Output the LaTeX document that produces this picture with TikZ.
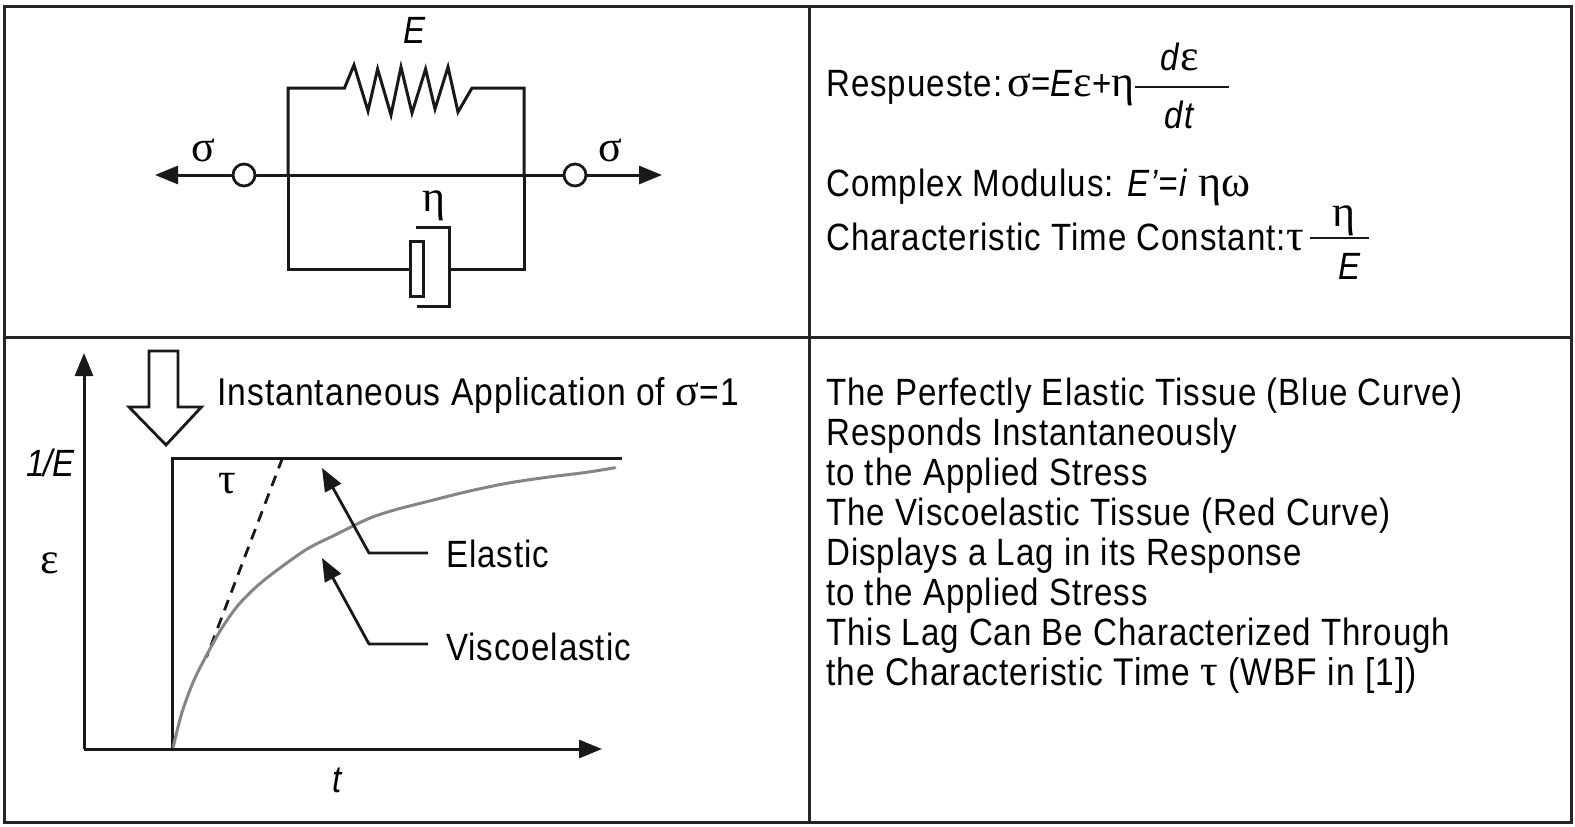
\documentclass[tikz,border=0pt]{standalone}
\usepackage{fontspec}
\usetikzlibrary{arrows.meta}
\setmainfont[FakeStretch=0.87,LetterSpace=2.6]{Liberation Sans}
\newfontfamily\grk{Liberation Serif}
\newcommand{\gk}[1]{{\grk\fontsize{44}{40}\selectfont #1}}
\tikzset{
  wire/.style={line width=3pt,draw=black!90,line join=miter},
  frameln/.style={line width=3pt,draw=black!85},
  thinw/.style={line width=2.8pt,draw=black!90},
  tip/.style={-{Triangle[length=23pt,width=18pt]}},
  txt/.style={inner sep=0pt,anchor=base west,font=\fontsize{38}{40}\selectfont},
  lbl/.style={inner sep=0pt,anchor=base,font=\fontsize{38}{40}\selectfont},
  term/.style={circle,draw=black!90,line width=2.8pt,fill=white,minimum size=22pt,inner sep=0pt},
}
\begin{document}
\begin{tikzpicture}[x=1pt,y=-1pt]
\useasboundingbox (0,0) rectangle (1575,827);
\fill[white] (0,0) rectangle (1575,827);
% frame
\draw[frameln] (4,6) rectangle (1571,822);
\draw[frameln] (809,6) -- (809,822);
\draw[frameln] (4,337) -- (1571,337);
% circuit
\coordinate (lj) at (288,175);
\coordinate (rj) at (524,175);
\coordinate (ltip) at (155,175);
\coordinate (rtip) at (662,175);
\node[term] (lt) at (244,175) {};
\node[term] (rt) at (575,175) {};
\draw[wire,tip] (lt.west) -- (ltip);
\draw[wire,tip] (rt.east) -- (rtip);
\draw[wire] (lt.east) -- (rt.west);
\draw[wire] (lj) -- (288,88) -- (344.5,88) -- (354,65) -- (368,111) -- (377.6,69) -- (391,115) -- (401,67) -- (412,113) -- (425.6,69) -- (435,109) -- (448,67) -- (458,112) -- (472,88) -- (524,88) -- (rj);
\node[draw=black!90,line width=2.6pt,fill=white,minimum width=13pt,minimum height=55pt,inner sep=0pt] (pis) at (417,269) {};
\draw[wire] (lj) -- (288,269) -- (pis.west);
\coordinate (cylt) at (449,227);
\coordinate (cylb) at (449,306);
\draw[wire] (416,227) -- (cylt) -- (cylb) -- (417,306);
\draw[wire] (449,269) -- (524,269) -- (rj);
\node[lbl,font=\fontsize{38}{40}\selectfont\itshape] (lE) at (415,43) {E};
\node[lbl] (ls1) at (203,161) {\gk{σ}};
\node[lbl] (ls2) at (610,161) {\gk{σ}};
\node[lbl] (leta) at (434,211) {\gk{η}};
% graph
\coordinate (org) at (84,749);
\coordinate (ytip) at (84,353);
\coordinate (xtip) at (602,749);
\draw[wire,tip] (org) -- (ytip);
\draw[wire,tip] (org) -- (xtip);
\draw[line width=2.8pt,draw=black!90,fill=white,line join=miter] (149,351) -- (178,351) -- (178,407) -- (201.5,407) -- (166,445) -- (129,407) -- (149,407) -- cycle;
\coordinate (s0) at (172,749);
\coordinate (s1) at (172,458);
\coordinate (s2) at (622,458);
\draw[wire] (s0) -- (s1) -- (s2);
\draw[line width=2.8pt,draw=black!90,dash pattern=on 11pt off 8pt] (282.5,458) -- (206.6,657);
\draw[line width=3pt,draw=black!48,line cap=round] plot[smooth,tension=0.5] coordinates {(173.3,746.7) (181.7,713.3) (193.3,681.7) (206.7,655) (221.7,628.3) (238.3,605) (258.3,585) (281.7,566.7) (308.3,548.3) (335,535) (355,525) (373.3,516.7) (398,509) (426.7,501.7) (466.7,491.7) (506.7,483.3) (546.7,477.3) (586.7,472.3) (615,467.7)};
\coordinate (e0) at (428,553);
\coordinate (e1) at (369,553);
\coordinate (e2) at (322,468);
\draw[thinw,tip] (e0) -- (e1) -- (e2);
\coordinate (v0) at (428,644);
\coordinate (v1) at (369,644);
\coordinate (v2) at (322,558);
\draw[thinw,tip] (v0) -- (v1) -- (v2);
\node[txt,font=\fontsize{38.7}{40}\selectfont] (inst) at (217,405) {Instantaneous Application of \gk{σ}=1};
\node[txt,font=\fontsize{38}{40}\selectfont\itshape\addfontfeature{LetterSpace=-2}] (oneE) at (26,476) {1/E};
\node[lbl] (leps) at (50,573) {\gk{ε}};
\node[lbl] (ltau) at (227,493) {\gk{τ}};
\node[lbl,font=\fontsize{38}{40}\selectfont\itshape] (lt2) at (337,792) {t};
\node[txt] (el) at (446,567) {Elastic};
\node[txt] (vi) at (446,660) {Viscoelastic};
% right top
\node[txt] (resp) at (826,96) {Respueste:\hspace{5pt}\gk{σ}=\textit{E}\gk{ε}+\gk{η}};
\coordinate (f1a) at (1135,87);
\coordinate (f1b) at (1229,87);
\draw[thinw] (f1a) -- (f1b);
\node[lbl] (num1) at (1180,70) {\textit{d}\gk{ε}};
\node[lbl] (den1) at (1180,128) {\textit{dt}};
\node[txt] (cm) at (826,196) {Complex Modulus: \textit{E’=i} \gk{ηω}};
\node[txt] (ch) at (826,250) {Characteristic Time Constant:\gk{τ}};
\coordinate (f2a) at (1310,238);
\coordinate (f2b) at (1369,238);
\draw[thinw] (f2a) -- (f2b);
\node[lbl] (num2) at (1344,226) {\gk{η}};
\node[lbl,font=\fontsize{38}{40}\selectfont\itshape] (den2) at (1350,279) {E};
% right bottom
\node[txt] (b1) at (826,405) {The Perfectly Elastic Tissue (Blue Curve)};
\node[txt] (b2) at (826,445) {Responds Instantaneously};
\node[txt] (b3) at (826,485) {to the Applied Stress};
\node[txt] (b4) at (826,525) {The Viscoelastic Tissue (Red Curve)};
\node[txt] (b5) at (826,565) {Displays a Lag in its Response};
\node[txt] (b6) at (826,605) {to the Applied Stress};
\node[txt] (b7) at (826,645) {This Lag Can Be Characterized Through};
\node[txt,font=\fontsize{38.6}{40}\selectfont] (b8) at (826,685) {the Characteristic Time \gk{τ} (WBF in [1])};
\end{tikzpicture}
\end{document}
